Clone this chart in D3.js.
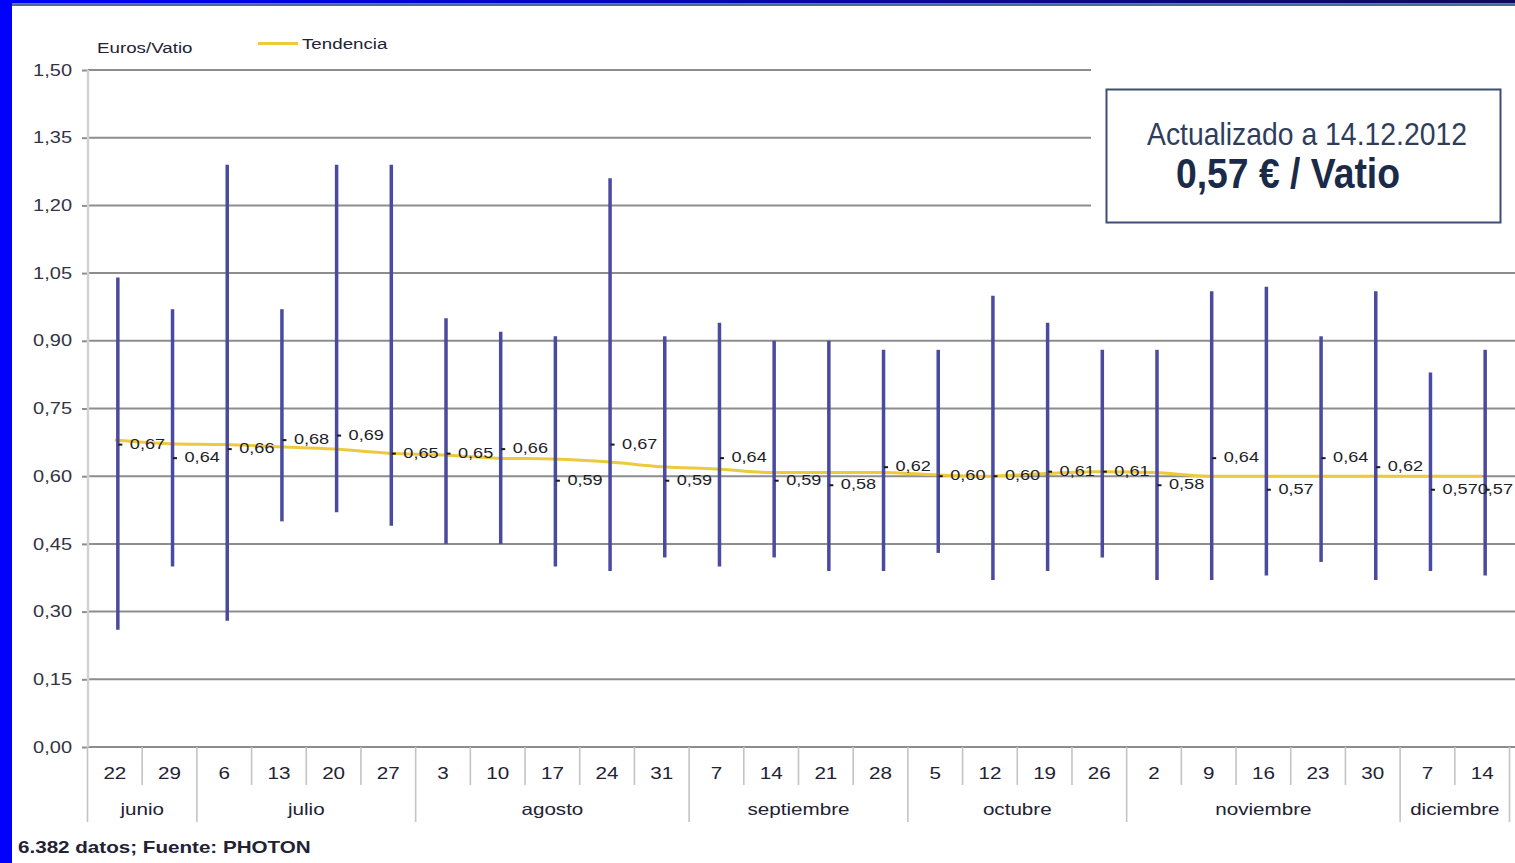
<!DOCTYPE html>
<html lang="es">
<head>
<meta charset="utf-8">
<title>Precio módulos fotovoltaicos – Euros/Vatio</title>
<script src="https://cdn.jsdelivr.net/npm/d3@7/dist/d3.min.js"></script>
<style>
  html, body { margin: 0; padding: 0; background: #ffffff; }
  svg { display: block; }
  text { font-family: "Liberation Sans", Arial, Helvetica, sans-serif; }
</style>
</head>
<body>
<svg id="chart" width="1515" height="863"></svg>
<script>
// Weekly categories (day of month) and month grouping
const weekLabels = ["22","29","6","13","20","27","3","10","17","24","31","7","14","21","28","5","12","19","26","2","9","16","23","30","7","14"];
const monthNames = ["junio","julio","agosto","septiembre","octubre","noviembre","diciembre"];
const monthWeeks = [2, 4, 5, 4, 4, 5, 2];

// Price range per week (€/W): maximum, minimum and mean
const priceMax  = [1.04,0.97,1.29,0.97,1.29,1.29,0.95,0.92,0.91,1.26,0.91,0.94,0.90,0.90,0.88,0.88,1.00,0.94,0.88,0.88,1.01,1.02,0.91,1.01,0.83,0.88];
const priceMin  = [0.26,0.40,0.28,0.50,0.52,0.49,0.45,0.45,0.40,0.39,0.42,0.40,0.42,0.39,0.39,0.43,0.37,0.39,0.42,0.37,0.37,0.38,0.41,0.37,0.39,0.38];
const priceMean = [0.67,0.64,0.66,0.68,0.69,0.65,0.65,0.66,0.59,0.67,0.59,0.64,0.59,0.58,0.62,0.60,0.60,0.61,0.61,0.58,0.64,0.57,0.64,0.62,0.57,0.57];

// Smoothed trend ("Tendencia")
const trend = [0.68,0.672,0.67,0.665,0.66,0.651,0.647,0.64,0.638,0.632,0.621,0.616,0.608,0.608,0.608,0.603,0.60,0.606,0.61,0.608,0.60,0.60,0.60,0.60,0.60,0.60];

// Y axis ticks
const yTicks = [0, 0.15, 0.30, 0.45, 0.60, 0.75, 0.90, 1.05, 1.20, 1.35, 1.50];
const yTickLabels = ["0,00","0,15","0,30","0,45","0,60","0,75","0,90","1,05","1,20","1,35","1,50"];

const svg = d3.select("#chart");
const W = 1515, H = 863;
const STRETCH = 1.25;           // wide lettering used throughout the chart
const fmt = v => d3.format(".2f")(v).replace(".", ",");

// Frame: blue strip on the left and a gradient bar on top
const defs = svg.append("defs");
const grad = defs.append("linearGradient").attr("id", "topbar").attr("x1", "0").attr("x2", "1");
grad.append("stop").attr("offset", "0").attr("stop-color", "#0000ff");
grad.append("stop").attr("offset", "1").attr("stop-color", "#0c0c5c");
svg.append("rect").attr("x", 0).attr("y", 0).attr("width", W).attr("height", 3.5).attr("fill", "url(#topbar)");
svg.append("rect").attr("x", 0).attr("y", 3.5).attr("width", W).attr("height", 2.5).attr("fill", "#4d6b9a");
svg.append("rect").attr("x", 0).attr("y", 0).attr("width", 12).attr("height", H).attr("fill", "#0000ff");

// Scales
const x = d3.scaleBand().domain(d3.range(weekLabels.length)).range([87.5, 1509.5]).padding(0);
const y = d3.scaleLinear().domain([0, 1.5]).range([747, 70]);
const cx = i => x(i) + x.bandwidth() / 2;
const barX = i => cx(i) + 3;

// Horizontal gridlines (upper ones stop short of the info box)
svg.append("g").selectAll("line").data(yTicks).join("line")
  .attr("x1", 88)
  .attr("x2", d => d >= 1.19 ? 1091 : W)
  .attr("y1", d => y(d)).attr("y2", d => y(d))
  .attr("stroke", "#8d8d8d").attr("stroke-width", 2);

// Y axis
const yAxis = svg.append("g").attr("transform", "translate(88,0)")
  .call(d3.axisLeft(y).tickValues(yTicks).tickSize(6).tickFormat((d, i) => yTickLabels[i]));
yAxis.select(".domain").remove();
yAxis.selectAll(".tick line").attr("stroke", "#8d8d8d").attr("stroke-width", 2);
yAxis.selectAll(".tick text")
  .attr("x", -16 / STRETCH)
  .attr("transform", `scale(${STRETCH},1)`)
  .attr("fill", "#333344").attr("font-size", 16);
svg.append("line").attr("x1", 88).attr("x2", 88).attr("y1", 70).attr("y2", 747)
  .attr("stroke", "#d2d2d2").attr("stroke-width", 2.5);

// X axis: week numbers
const xAxis = svg.append("g").attr("transform", "translate(0,747)")
  .call(d3.axisBottom(x).tickSize(0).tickPadding(20).tickFormat(i => weekLabels[i]));
xAxis.select(".domain").remove();
xAxis.selectAll(".tick text")
  .attr("transform", `scale(${STRETCH},1)`)
  .attr("fill", "#222233").attr("font-size", 16.5);

// Separators: short ones between weeks, long ones between months
const monthStarts = [];
monthWeeks.reduce((acc, n) => { monthStarts.push(acc); return acc + n; }, 0);
const boundaries = d3.range(weekLabels.length + 1);
svg.append("g").selectAll("line").data(boundaries).join("line")
  .attr("x1", i => i < weekLabels.length ? x(i) : x.range()[1])
  .attr("x2", i => i < weekLabels.length ? x(i) : x.range()[1])
  .attr("y1", 747)
  .attr("y2", i => (monthStarts.includes(i) || i === weekLabels.length) ? 822 : 785)
  .attr("stroke", "#c4c4c4").attr("stroke-width", 1.6);

// Month labels centred on their span
svg.append("g").selectAll("text").data(monthNames).join("text")
  .attr("transform", (d, k) => {
    const a = x(monthStarts[k]);
    const end = monthStarts[k] + monthWeeks[k];
    const b = end < weekLabels.length ? x(end) : x.range()[1];
    return `translate(${(a + b) / 2},815) scale(${STRETCH},1)`;
  })
  .attr("text-anchor", "middle").attr("font-size", 16.5).attr("fill", "#222233")
  .text(d => d);

// Trend line
const trendLine = d3.line().x((d, i) => cx(i)).y(d => y(d)).curve(d3.curveMonotoneX);
svg.append("path").datum(trend)
  .attr("d", trendLine).attr("fill", "none")
  .attr("stroke", "#ecca3c").attr("stroke-width", 3);

// Weekly price range bars
svg.append("g").selectAll("line").data(priceMax).join("line")
  .attr("x1", (d, i) => barX(i)).attr("x2", (d, i) => barX(i))
  .attr("y1", d => y(d)).attr("y2", (d, i) => y(priceMin[i]))
  .attr("stroke", "#4a4a9e").attr("stroke-width", 3.5);

// Mean markers and their values (the last value is kept inside the right edge)
const lastIdx = priceMean.length - 1;
svg.append("g").selectAll("rect").data(priceMean).join("rect")
  .attr("x", (d, i) => barX(i) + 0.5).attr("y", d => y(d) - 1)
  .attr("width", 4).attr("height", 2).attr("fill", "#1a1a1a");
svg.append("g").selectAll("text").data(priceMean).join("text")
  .attr("transform", (d, i) => i === lastIdx
    ? `translate(${W - 2},${y(d) + 4}) scale(${STRETCH},1)`
    : `translate(${barX(i) + 12},${y(d) + 4}) scale(${STRETCH},1)`)
  .attr("text-anchor", (d, i) => i === lastIdx ? "end" : "start")
  .attr("font-size", 14.5).attr("fill", "#1e1e28")
  .text(d => fmt(d));

// Axis title and legend
svg.append("text").attr("transform", `translate(97,53) scale(${STRETCH},1)`)
  .attr("font-size", 15).attr("fill", "#222233").text("Euros/Vatio");
svg.append("line").attr("x1", 258).attr("x2", 298).attr("y1", 43.5).attr("y2", 43.5)
  .attr("stroke", "#ecca3c").attr("stroke-width", 3);
svg.append("text").attr("transform", `translate(302,49) scale(${STRETCH},1)`)
  .attr("font-size", 15).attr("fill", "#222233").text("Tendencia");

// Footer with source
svg.append("text").attr("transform", `translate(18,853) scale(${STRETCH},1)`)
  .attr("font-size", 16.5).attr("font-weight", "bold").attr("fill", "#222233")
  .text("6.382 datos; Fuente: PHOTON");

// Info box with the latest price
svg.append("rect").attr("x", 1106.5).attr("y", 89.5).attr("width", 394).attr("height", 133)
  .attr("fill", "#ffffff").attr("stroke", "#3e4d74").attr("stroke-width", 2);
const narrow = '"Liberation Sans Narrow", "DejaVu Sans Condensed", "Liberation Sans", sans-serif';
svg.append("text").attr("x", 1147).attr("y", 145)
  .attr("font-family", narrow).attr("font-size", 32).attr("fill", "#2f3d5c")
  .attr("textLength", 320).attr("lengthAdjust", "spacingAndGlyphs")
  .text("Actualizado a 14.12.2012");
svg.append("text").attr("x", 1176).attr("y", 188)
  .attr("font-family", narrow).attr("font-size", 43).attr("font-weight", "bold").attr("fill", "#1b2a48")
  .attr("textLength", 224).attr("lengthAdjust", "spacingAndGlyphs")
  .text("0,57 € / Vatio");
</script>
</body>
</html>
